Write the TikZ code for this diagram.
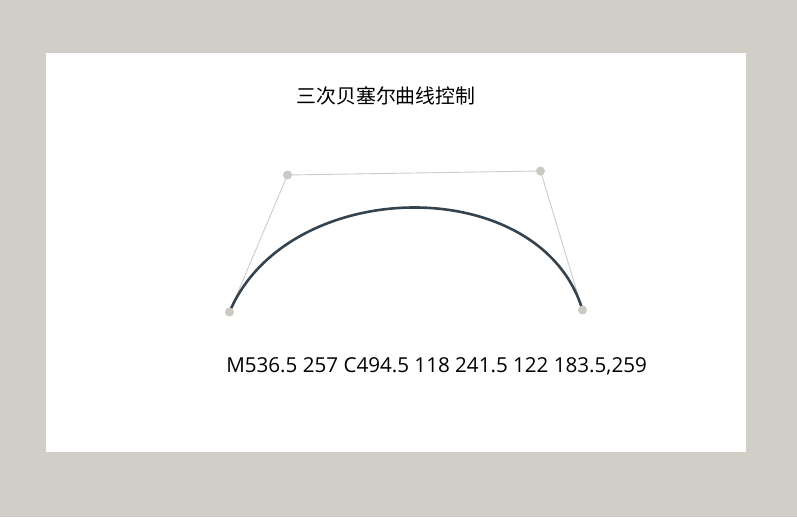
\documentclass[tikz,border=0pt]{standalone}
\usepackage{fontspec}
\setmainfont{Open Sans}
\newfontfamily\cjk{Noto Sans CJK SC}
\definecolor{bggray}{HTML}{D1CEC8}
\definecolor{ptgray}{HTML}{CCC9C3}
\definecolor{curvecol}{HTML}{35434F}
\definecolor{linecol}{HTML}{CCCCCC}
\begin{document}
\begin{tikzpicture}[x=1pt,y=-1pt,
  ctrlpt/.style={circle,fill=ptgray,inner sep=0pt,minimum size=9pt},
  ctrlline/.style={draw=linecol,line width=0.9pt},
  bez/.style={draw=curvecol,line width=2.6pt}]
\fill[bggray] (0,0) rectangle (797,517);
\useasboundingbox (0,0) rectangle (797,517);
\fill[white] (46,53) rectangle (746,452);
\node[font=\cjk\fontsize{19.9}{23}\selectfont] (title) at (386,96) {三次贝塞尔曲线控制};
\coordinate (P0) at (582.5,310);
\coordinate (P1) at (540.5,171);
\coordinate (P2) at (287.5,175);
\coordinate (P3) at (229.5,312);
\draw[ctrlline] (P0) -- (P1) -- (P2) -- (P3);
\draw[bez] (P0) .. controls (P1) and (P2) .. (P3);
\node[ctrlpt] (d0) at (P0) {};
\node[ctrlpt] (d1) at (P1) {};
\node[ctrlpt] (d2) at (P2) {};
\node[ctrlpt] (d3) at (P3) {};
\node[font=\fontsize{20.6}{24}\selectfont] (path) at (436.5,366) {M536.5 257 C494.5 118 241.5 122 183.5,259};
\end{tikzpicture}
\end{document}
